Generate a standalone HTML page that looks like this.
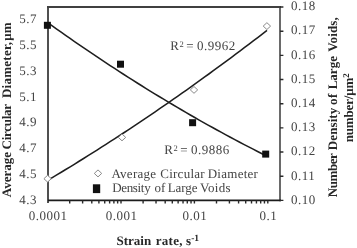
<!DOCTYPE html><html><head><meta charset="utf-8"><style>html,body{margin:0;padding:0;background:#fff;}svg{display:block;will-change:transform}text{font-family:"Liberation Serif",serif;text-rendering:geometricPrecision}</style></head><body>
<svg width="357" height="248" viewBox="0 0 357 248">
<rect width="357" height="248" fill="#fff"/>
<path d="M48.0 6.0V203.0" stroke="#505050" stroke-width="2" fill="none"/>
<path d="M280.0 6.0V201.3" stroke="#6a6a6a" stroke-width="2" fill="none"/>
<path d="M47.0 7.0H281.0" stroke="#404040" stroke-width="2" fill="none"/>
<path d="M48.0 200.4H281.0" stroke="#1c1c1c" stroke-width="1.8" fill="none"/>
<path d="M69.70 200.40V203.40M82.62 200.40V203.40M91.79 200.40V203.40M98.90 200.40V203.40M104.72 200.40V203.40M109.63 200.40V203.40M113.89 200.40V203.40M117.64 200.40V203.40M121.00 200.40V203.40M143.10 200.40V203.40M156.02 200.40V203.40M165.19 200.40V203.40M172.30 200.40V203.40M178.12 200.40V203.40M183.03 200.40V203.40M187.29 200.40V203.40M191.04 200.40V203.40M194.40 200.40V203.40M216.50 200.40V203.40M229.42 200.40V203.40M238.59 200.40V203.40M245.70 200.40V203.40M251.52 200.40V203.40M256.43 200.40V203.40M260.69 200.40V203.40M264.44 200.40V203.40M267.80 200.40V203.40" stroke="#2a2a2a" stroke-width="1.4" fill="none"/>
<path d="M280.00 200.40H283.40M280.00 176.22H283.40M280.00 152.05H283.40M280.00 127.88H283.40M280.00 103.70H283.40M280.00 79.53H283.40M280.00 55.35H283.40M280.00 31.18H283.40M280.00 7.00H283.40" stroke="#2a2a2a" stroke-width="1.4" fill="none"/>
<text x="36.9" y="23.29" font-size="13" letter-spacing="0.5" text-anchor="end" fill="#444444">5.7</text>
<text x="36.9" y="49.09" font-size="13" letter-spacing="0.5" text-anchor="end" fill="#444444">5.5</text>
<text x="36.9" y="74.89" font-size="13" letter-spacing="0.5" text-anchor="end" fill="#444444">5.3</text>
<text x="36.9" y="100.69" font-size="13" letter-spacing="0.5" text-anchor="end" fill="#444444">5.1</text>
<text x="36.9" y="126.49" font-size="13" letter-spacing="0.5" text-anchor="end" fill="#444444">4.9</text>
<text x="36.9" y="152.29" font-size="13" letter-spacing="0.5" text-anchor="end" fill="#444444">4.7</text>
<text x="36.9" y="178.09" font-size="13" letter-spacing="0.5" text-anchor="end" fill="#444444">4.5</text>
<text x="36.9" y="203.89" font-size="13" letter-spacing="0.5" text-anchor="end" fill="#444444">4.3</text>
<text x="290.9" y="10.29" font-size="13" letter-spacing="0.5" fill="#444444">0.18</text>
<text x="290.9" y="34.48" font-size="13" letter-spacing="0.5" fill="#444444">0.17</text>
<text x="290.9" y="58.67" font-size="13" letter-spacing="0.5" fill="#444444">0.16</text>
<text x="290.9" y="82.86" font-size="13" letter-spacing="0.5" fill="#444444">0.15</text>
<text x="290.9" y="107.04" font-size="13" letter-spacing="0.5" fill="#444444">0.14</text>
<text x="290.9" y="131.23" font-size="13" letter-spacing="0.5" fill="#444444">0.13</text>
<text x="290.9" y="155.42" font-size="13" letter-spacing="0.5" fill="#444444">0.12</text>
<text x="290.9" y="179.61" font-size="13" letter-spacing="0.5" fill="#444444">0.11</text>
<text x="290.9" y="203.79" font-size="13" letter-spacing="0.5" fill="#444444">0.10</text>
<text x="48.10" y="219.6" font-size="13" letter-spacing="0.5" text-anchor="middle" fill="#444444">0.0001</text>
<text x="121.50" y="219.6" font-size="13" letter-spacing="0.5" text-anchor="middle" fill="#444444">0.001</text>
<text x="194.90" y="219.6" font-size="13" letter-spacing="0.5" text-anchor="middle" fill="#444444">0.01</text>
<text x="268.30" y="219.6" font-size="13" letter-spacing="0.5" text-anchor="middle" fill="#444444">0.1</text>
<path d="M47.80 180.28 L52.27 177.61 L56.75 174.93 L61.22 172.23 L65.69 169.52 L70.17 166.79 L74.64 164.04 L79.11 161.28 L83.59 158.50 L88.06 155.70 L92.53 152.89 L97.01 150.06 L101.48 147.21 L105.96 144.35 L110.43 141.47 L114.90 138.57 L119.38 135.66 L123.85 132.74 L128.32 129.79 L132.80 126.83 L137.27 123.85 L141.74 120.86 L146.22 117.85 L150.69 114.82 L155.16 111.78 L159.64 108.72 L164.11 105.65 L168.58 102.56 L173.06 99.45 L177.53 96.32 L182.00 93.18 L186.48 90.03 L190.95 86.85 L195.42 83.66 L199.90 80.46 L204.37 77.24 L208.84 74.00 L213.32 70.74 L217.79 67.47 L222.27 64.18 L226.74 60.88 L231.21 57.56 L235.69 54.22 L240.16 50.86 L244.63 47.49 L249.11 44.11 L253.58 40.71 L258.05 37.29 L262.53 33.85 L267.00 30.40" stroke="#1e1e1e" stroke-width="1.55" fill="none" stroke-linejoin="round"/>
<path d="M47.80 22.67 L52.25 25.86 L56.71 29.03 L61.16 32.19 L65.61 35.32 L70.07 38.43 L74.52 41.52 L78.97 44.60 L83.42 47.65 L87.88 50.68 L92.33 53.69 L96.78 56.69 L101.24 59.66 L105.69 62.61 L110.14 65.55 L114.60 68.46 L119.05 71.36 L123.50 74.23 L127.96 77.08 L132.41 79.92 L136.86 82.73 L141.31 85.53 L145.77 88.30 L150.22 91.06 L154.67 93.79 L159.13 96.51 L163.58 99.20 L168.03 101.88 L172.49 104.53 L176.94 107.17 L181.39 109.78 L185.84 112.38 L190.30 114.96 L194.75 117.51 L199.20 120.05 L203.66 122.56 L208.11 125.06 L212.56 127.54 L217.02 129.99 L221.47 132.43 L225.92 134.85 L230.38 137.24 L234.83 139.62 L239.28 141.98 L243.73 144.32 L248.19 146.63 L252.64 148.93 L257.09 151.21 L261.55 153.47 L266.00 155.71" stroke="#1e1e1e" stroke-width="1.55" fill="none" stroke-linejoin="round"/>
<path d="M47.60 175.30L51.30 178.70L47.60 182.10L43.90 178.70Z" fill="#fff" stroke="#8a8a8a" stroke-width="1"/>
<path d="M122.00 134.00L125.70 137.40L122.00 140.80L118.30 137.40Z" fill="#fff" stroke="#8a8a8a" stroke-width="1"/>
<path d="M194.00 86.50L197.70 89.90L194.00 93.30L190.30 89.90Z" fill="#fff" stroke="#8a8a8a" stroke-width="1"/>
<path d="M266.90 22.70L270.60 26.10L266.90 29.50L263.20 26.10Z" fill="#fff" stroke="#8a8a8a" stroke-width="1"/>
<rect x="43.90" y="21.80" width="7" height="7" fill="#111"/>
<rect x="117.00" y="60.70" width="7" height="7" fill="#111"/>
<rect x="189.10" y="119.20" width="7" height="7" fill="#111"/>
<rect x="262.20" y="150.60" width="7" height="7" fill="#111"/>
<text font-size="13" fill="#444444"><tspan x="170.3" y="50.1">R</tspan><tspan x="179.4" y="46.9" font-size="8.5">2</tspan><tspan x="186.3" y="50.1">=</tspan><tspan x="196.9" y="50.1" letter-spacing="0.5">0.9962</tspan></text>
<text font-size="13" fill="#444444"><tspan x="164.3" y="153.7">R</tspan><tspan x="173.4" y="150.5" font-size="8.5">2</tspan><tspan x="180.3" y="153.7">=</tspan><tspan x="190.9" y="153.7" letter-spacing="0.5">0.9886</tspan></text>
<path d="M98 169.9L101.7 173.4L98 176.9L94.3 173.4Z" fill="#fff" stroke="#8a8a8a" stroke-width="1"/>
<rect x="92.9" y="184.3" width="7.3" height="8.8" fill="#111"/>
<text y="177.8" font-size="13" letter-spacing="0.27" fill="#444444"><tspan x="111.4">Average</tspan><tspan x="160.2">Circular</tspan><tspan x="207.7">Diameter</tspan></text>
<text y="192.1" font-size="13" letter-spacing="-0.08" fill="#444444"><tspan x="112.2" letter-spacing="-0.33">Density</tspan><tspan x="154.5">of</tspan><tspan x="167.7">Large</tspan><tspan x="200.1" letter-spacing="0.25">Voids</tspan></text>
<text transform="translate(10.8 197.2) rotate(-90)" font-size="13" font-weight="bold" fill="#282828"><tspan x="0">Average</tspan><tspan x="47.8" letter-spacing="-0.3">Circular</tspan><tspan x="99.1" letter-spacing="0.26">Diameter,</tspan><tspan x="156.5">μm</tspan></text>
<text transform="translate(336.8 197.8) rotate(-90)" font-size="13" font-weight="bold" fill="#282828"><tspan x="0.6" letter-spacing="-0.45">Number</tspan><tspan x="47.66" letter-spacing="0.09">Density</tspan><tspan x="92.9" letter-spacing="0.3">of</tspan><tspan x="108.5">Large</tspan><tspan x="146.1" letter-spacing="0.12">Voids,</tspan></text>
<text transform="translate(353.3 142.3) rotate(-90)" font-size="13" letter-spacing="-0.15" font-weight="bold" fill="#282828">number/μm<tspan font-size="9" dy="-4.4">2</tspan></text>
<text x="116.5" y="245" font-size="13" font-weight="bold" fill="#282828">Strain<tspan dx="1.0" letter-spacing="0.3"> rate,</tspan><tspan> s</tspan><tspan font-size="9.5" dy="-4.4">-1</tspan></text>
</svg></body></html>
